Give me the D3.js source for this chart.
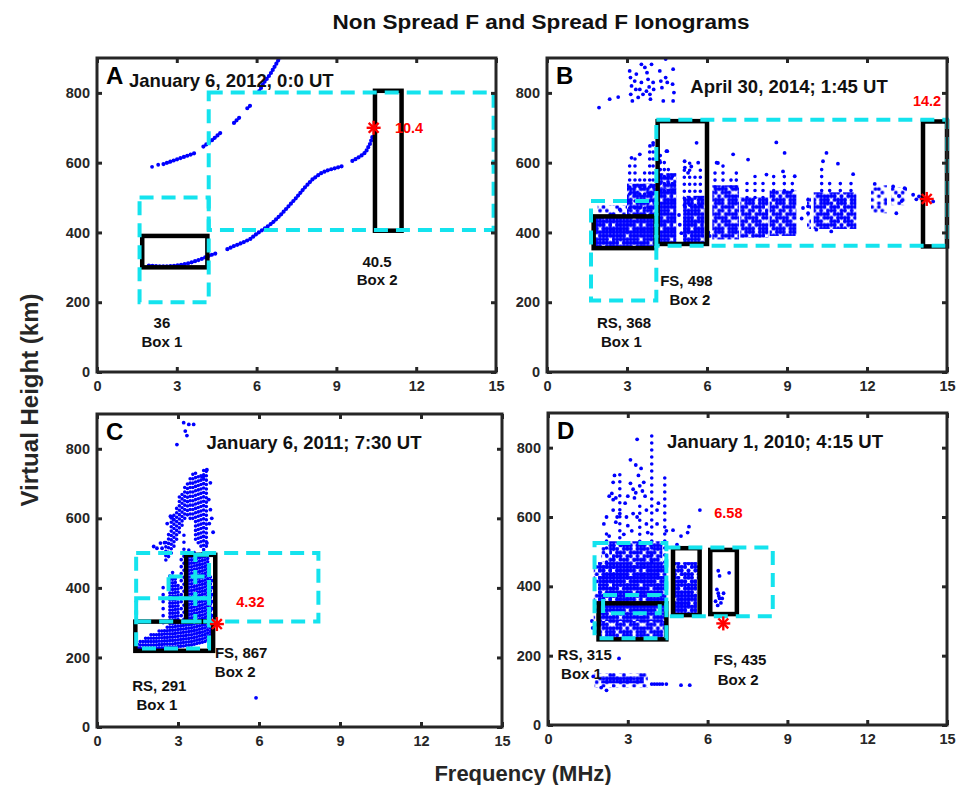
<!DOCTYPE html>
<html><head><meta charset="utf-8">
<script src="https://cdn.jsdelivr.net/npm/d3@7"></script>
<style>
body{margin:0;background:#fff}
svg{display:block}
text{font-family:"Liberation Sans",Arial,Helvetica,sans-serif;font-weight:bold}
</style>
</head><body>
<svg id="c" width="957" height="785"></svg>
<script>
// ---------------- DATA ----------------
const freqTicks = [0, 3, 6, 9, 12, 15];
const heightTicks = [0, 200, 400, 600, 800];
const freqDomain = [0, 15];
const heightDomain = [0, 900];
const mainTitle = "Non Spread F and Spread F Ionograms";
const xLabel = "Frequency (MHz)";
const yLabel = "Virtual Height (km)";
const panelIds = ["A", "B", "C", "D"];
const panelTitles = ["January 6, 2012, 0:0 UT", "April 30, 2014; 1:45 UT", "January 6, 2011; 7:30 UT", "January 1, 2010; 4:15 UT"];

// Panel A: traces [freq MHz, height km] (null = gap)
const A_traces = [
  [[1.95,305],[2.3,303],[2.7,303],[3.1,306],[3.5,313],[3.9,323],[4.2,333],[4.55,342],null,[4.9,352],[5.15,361],[5.45,370],[5.76,381],[6.0,396],[6.3,411],[6.6,428],[6.9,450],[7.2,475],[7.5,500],[7.8,528],[8.1,552],[8.4,569],[8.7,579],[9.0,585],[9.3,592],null,[9.6,605],[9.9,618],[10.1,630],[10.27,655],[10.38,680]],
  [[2.5,596],[2.8,604],[3.1,612],[3.4,620],[3.7,628],null,[4.0,646],[4.3,663],[4.65,686],null,[5.15,714],[5.35,729],null,[5.65,756],[5.8,766],null,[6.1,805],[6.3,832],[6.5,852],[6.7,878],[6.9,905]]
];
const A_dots = [[2.07,588],[2.3,594]];
const A_black = [[1.7,4.15,300,390],[10.45,11.45,405,806]];
const A_cyan = [[1.6,4.2,200,500],[4.2,14.91,407,801]];
const A_star = [10.4,700];
const A_starLabel = ["10.4", 11.2, 700];
const A_boxLabels = [["36",2.44,141],["Box 1",2.44,87],["40.5",10.53,317],["Box 2",10.53,264]];

// Panel B: dense / medium / sparse blocks [f0,f1,h0,h1], dotted columns [f,h0,h1], single dots [f,h]
const B_dense = [[1.78,4.08,357,448],[4.15,4.85,372,525],[5.1,5.9,372,470]];
const B_medium = [[3.0,4.08,448,540],[4.15,4.85,525,570],[5.1,5.9,470,505],[6.2,7.2,380,535],[7.25,8.3,385,500],[8.35,9.35,390,520],[10.0,11.6,410,515]];
const B_sparse = [[1.9,3.0,448,478],[9.75,9.9,410,500],[12.15,12.75,455,535],[12.9,13.5,478,530]];
const B_streaks = [[3.1,450,600],[3.3,450,620],[3.48,450,560],[3.66,450,590],[3.85,450,640],[3.98,450,660],[4.25,520,640],[4.4,520,620],[4.55,520,600],[4.7,520,580],[5.15,478,590],[5.35,478,600],[5.55,478,560],[5.75,478,590],[6.3,530,580],[6.6,530,600],[6.9,530,570],[7.1,530,590],[7.5,500,560],[7.8,500,570],[8.1,500,550],[8.5,520,570],[8.9,520,580],[9.2,520,560],[10.3,520,600],[10.6,520,560],[11.0,520,550],[11.4,520,545]];
const B_dots = [[1.95,758],[2.35,782],[2.67,788],[3.1,863],[3.13,844],[3.17,820],[3.14,796],[3.2,777],[3.29,834],[3.35,854],[3.48,810],[3.42,787],[3.54,830],[3.6,796],[3.67,873],[3.75,858],[3.79,839],[3.83,817],[3.86,796],[3.88,782],[3.92,882],[3.73,805],[3.98,830],[4.0,810],[4.23,863],[4.27,834],[4.31,815],[4.36,777],[4.45,897],[4.45,844],[4.51,830],[4.73,868],[4.71,825],[4.76,801],[4.73,777],[3.54,882],[3.33,810],
  [3.17,614],[3.48,624],[3.86,648],[3.98,657],[5.61,657],[4.51,633],[4.23,605],[5.17,586],[5.29,571],[5.67,600],[6.36,600],[6.98,624],[2.73,466],[2.48,452],[2.1,442],
  [6.41,599],[7.54,609],[8.6,658],[8.91,628],[8.23,566],[8.85,575],[9.29,561],[10.48,628],[10.35,604],[10.91,597],[11.48,567],[12.29,539],[12.98,532],[13.41,527],[9.79,494],[9.79,475],[9.79,455],[10.1,408],[10.66,403],[13.1,455],[13.73,508],[14.48,489],[13.95,503],[13.85,495],[13.2,505],[13.3,490],
  [5.16,604],[5.41,589],[4.48,633],[4.95,450],[4.98,422],[5.04,398],[6.05,400],[6.0,425],[6.1,390],[9.6,470],[9.55,440]];
const B_black = [[1.75,4.08,355,446],[4.15,6.0,367,719],[14.1,15.0,360,718]];
const B_cyan = [[1.65,4.1,205,490],[4.1,15.0,362,723]];
const B_star = [14.24,496];
const B_starLabel = ["14.2", 14.25, 776];
const B_boxLabels = [["FS, 498",5.23,262],["Box 2",5.36,207],["RS, 368",2.89,141],["Box 1",2.79,87]];

// Panel C: dense columns (core), looser columns (upper band)
const C_core = [[1.5,228,245],[1.6,226,250],[1.7,226,254],[1.8,226,258],[1.9,226,262],[2.0,226,266],[2.1,226,270],[2.2,226,273],[2.3,227,277],[2.4,227,281],[2.5,228,285],[2.6,228,290],[2.7,229,440],[2.8,229,445],[2.9,230,430],[3.0,231,410],[3.1,232,300],[3.2,233,302],[3.3,234,505],[3.4,235,510],[3.5,236,505],[3.6,238,510],[3.7,240,500],[3.8,242,505],[3.9,244,505],[4.0,246,500],[4.1,250,495],[4.2,255,440]];
const C_band = [[2.55,480,540],[2.65,490,560],[2.75,500,610],[2.85,520,620],[2.95,540,630],[3.05,560,665],[3.15,580,680],[3.25,600,690],[3.35,610,700],[3.45,600,720],[3.55,600,730],[3.65,540,735],[3.75,530,720],[3.85,520,735],[3.95,510,740],[4.05,520,745]];
const C_sparse = [[2.45,300,420],[3.12,300,500],[3.22,310,560],[4.28,300,430]];
const C_dots = [[3.21,875],[3.4,870],[3.58,870],[3.27,851],[3.33,838],[2.96,812],[5.89,84],[4.07,740],[3.95,721],[4.14,654],[4.2,625],[2.1,519],[2.35,529],[2.22,514],[4.2,702],[2.72,606],[2.6,585],[4.25,600],[4.3,560],[2.41,514],[2.78,604],[2.84,596],[3.89,719],[4.05,738],[3.95,548],[4.07,529],[4.16,585],[2.5,530]];
const C_black = [[1.42,4.3,219,303],[3.3,4.38,303,495]];
const C_cyan = [[1.45,8.2,303,500],[1.45,4.15,226,370],[2.65,4.15,370,433],[3.64,4.15,303,495]];
const C_star = [4.44,296];
const C_starLabel = ["4.32", 5.68, 360];
const C_boxLabels = [["FS, 867",5.34,215],["Box 2",5.12,159],["RS, 291",2.31,120],["Box 1",2.22,65]];

// Panel D
const D_dense = [[1.88,4.45,300,470],[4.75,5.6,320,420],[2.0,3.6,120,140]];
const D_medium = [[1.88,4.45,250,300],[2.3,4.3,470,530],[4.75,5.65,420,470]];
const D_sparse = [[1.75,3.75,108,150],[1.72,1.88,260,470],[2.0,2.3,470,520]];
const D_streaks = [[2.7,540,726],[3.9,470,837],[4.39,470,720],[3.45,530,650],[2.2,470,560]];
const D_dots = [[3.35,824],[3.1,765],[3.3,750],[3.5,740],[2.4,668],[2.45,650],[2.3,660],[2.55,655],[3.1,697],[3.2,680],[3.3,670],[3.45,690],[3.55,675],[3.25,655],[3.0,660],[2.7,610],[2.6,600],[2.2,600],[2.1,580],[3.7,620],[4.1,620],[4.45,560],[4.7,562],[5.3,572],[5.25,555],[5.0,545],[4.85,520],[5.71,620],
  [2.45,700],[2.5,720],[2.45,620],[2.55,585],[2.9,640],[2.95,600],[3.0,575],[3.15,560],[3.6,700],[3.65,660],[3.7,580],[3.75,555],[4.1,580],[4.15,640],[3.2,610],[3.35,600],[3.4,720],[2.3,545],[2.85,550],
  [6.4,445],[6.81,439],[6.45,430],[6.35,391],[6.4,380],[6.45,365],[6.5,352],[6.3,357],[6.38,345],[6.55,365],[6.42,372],[6.6,380],[2.67,192],[3.9,118],[4.0,118],[4.1,118],[4.2,118],[4.3,118],[4.45,118],[5.0,115],[5.33,115],[1.7,140],[2.2,100],[2.0,108],[1.65,300],[1.68,280]];
const D_black = [[1.9,4.45,247,351],[4.7,5.7,317,510],[6.1,7.1,320,505]];
const D_cyan = [[1.75,4.45,250,525],[4.45,8.45,314,512],[2.07,4.2,322,375]];
const D_star = [6.59,293];
const D_starLabel = ["6.58", 6.78, 612];
const D_boxLabels = [["RS, 315",1.38,202],["Box 1",1.26,147],["FS, 435",7.22,188],["Box 2",7.15,132]];

// ---------------- LAYOUT ----------------
const layout = [
  {x0:97, x1:496, y0:58, y1:372},
  {x0:547, x1:947, y0:58, y1:372},
  {x0:97, x1:502, y0:414, y1:727},
  {x0:548, x1:947, y0:413, y1:725}
];
const titleCfg = [
  {dx:32, dy:29, anchor:"start"},
  {dx:242, dy:35, anchor:"middle"},
  {dx:217, dy:35, anchor:"middle"},
  {dx:227, dy:35, anchor:"middle"}
];
const panels = [
  {traces:A_traces, dots:A_dots, dense:[], medium:[], sparse:[], streaks:[], core:[], band:[], black:A_black, cyan:A_cyan, star:A_star, starLabel:A_starLabel, starAnchor:"start", boxLabels:A_boxLabels},
  {traces:[], dots:B_dots, dense:B_dense, medium:B_medium, sparse:B_sparse, streaks:B_streaks, core:[], band:[], black:B_black, cyan:B_cyan, star:B_star, starLabel:B_starLabel, starAnchor:"middle", boxLabels:B_boxLabels},
  {traces:[], dots:C_dots, dense:[], medium:[], sparse:[], streaks:C_sparse, core:C_core, band:C_band, black:C_black, cyan:C_cyan, star:C_star, starLabel:C_starLabel, starAnchor:"middle", boxLabels:C_boxLabels},
  {traces:[], dots:D_dots, dense:D_dense, medium:D_medium, sparse:D_sparse, streaks:D_streaks, core:[], band:[], black:D_black, cyan:D_cyan, star:D_star, starLabel:D_starLabel, starAnchor:"middle", boxLabels:D_boxLabels}
];

const BLUE = "#0000ff", AX = "#262626", CYAN = "#14e3ee", RED = "#ff0000";
const svg = d3.select("#c");
const defs = svg.append("defs");

// dot-texture patterns (rendering style only): masks of a 9x8 grid of ionogram-like dots
function makePattern(id, mask, r) {
  const cw = 3.4, rh = 3.6;
  const p = defs.append("pattern").attr("id", id).attr("patternUnits", "userSpaceOnUse")
    .attr("width", cw * 9).attr("height", rh * mask.length);
  mask.forEach((row, j) => row.split("").forEach((c, k) => {
    if (c === "1") p.append("circle").attr("cx", cw * k + cw / 2).attr("cy", rh * j + rh / 2).attr("r", r).attr("fill", BLUE);
  }));
}
makePattern("dense", ["111111111","111101111","111111110","110111111","111111011","111111111","011111101","111110111"], 2.15);
makePattern("medium", ["110111011","011101111","111011010","101110111","110111101","011101110","111010111","101111011"], 2.05);
makePattern("sparse", ["100100101","010010100","001001010","100100001","010001100","001010010","100100100","010010001"], 1.9);

panels.forEach((P, i) => {
  const L = layout[i];
  const x = d3.scaleLinear().domain(freqDomain).range([L.x0, L.x1]);
  const y = d3.scaleLinear().domain(heightDomain).range([L.y1, L.y0]);
  const g = svg.append("g");
  const cid = "clip" + i;
  defs.append("clipPath").attr("id", cid).append("rect")
    .attr("x", L.x0).attr("y", L.y0).attr("width", L.x1 - L.x0).attr("height", L.y1 - L.y0);
  const data = g.append("g").attr("clip-path", `url(#${cid})`);

  const blocks = (arr, pat) => data.append("g").selectAll("rect").data(arr).join("rect")
    .attr("x", d => x(d[0])).attr("width", d => x(d[1]) - x(d[0]))
    .attr("y", d => y(d[3])).attr("height", d => y(d[2]) - y(d[3]))
    .attr("fill", `url(#${pat})`);
  blocks(P.sparse, "sparse");
  blocks(P.medium, "medium");
  blocks(P.dense, "dense");

  const cols = (arr, dash) => data.append("g").selectAll("line").data(arr).join("line")
    .attr("x1", d => x(d[0])).attr("x2", d => x(d[0]))
    .attr("y1", d => y(d[1])).attr("y2", d => y(d[2]))
    .attr("stroke", BLUE).attr("stroke-width", 3.6).attr("stroke-linecap", "round").attr("stroke-dasharray", dash);
  cols(P.core, "0,3.4");
  cols(P.band, "0,4.4");
  cols(P.streaks, "0,7");

  const line = d3.line().defined(d => d !== null).x(d => x(d[0])).y(d => y(d[1]));
  data.append("g").selectAll("path").data(P.traces).join("path")
    .attr("d", line).attr("fill", "none").attr("stroke", BLUE).attr("stroke-width", 4.2)
    .attr("stroke-linecap", "round").attr("stroke-dasharray", "0,3.6");
  data.append("g").selectAll("circle").data(P.dots).join("circle")
    .attr("cx", d => x(d[0])).attr("cy", d => y(d[1])).attr("r", 1.9).attr("fill", BLUE);

  // black boxes
  g.append("g").selectAll("rect").data(P.black).join("rect")
    .attr("x", d => x(d[0])).attr("width", d => x(d[1]) - x(d[0]))
    .attr("y", d => y(d[3])).attr("height", d => y(d[2]) - y(d[3]))
    .attr("fill", "none").attr("stroke", "#000").attr("stroke-width", 4.5);
  // cyan dashed boxes
  g.append("g").selectAll("rect").data(P.cyan).join("rect")
    .attr("x", d => x(d[0])).attr("width", d => x(d[1]) - x(d[0]))
    .attr("y", d => y(d[3])).attr("height", d => y(d[2]) - y(d[3]))
    .attr("fill", "none").attr("stroke", CYAN).attr("stroke-width", 4).attr("stroke-dasharray", "14,8");

  // frame + ticks
  g.append("rect").attr("x", L.x0).attr("y", L.y0).attr("width", L.x1 - L.x0).attr("height", L.y1 - L.y0)
    .attr("fill", "none").attr("stroke", AX).attr("stroke-width", 3);
  const styleAxis = sel => {
    sel.select(".domain").remove();
    sel.selectAll(".tick line").attr("stroke", AX).attr("stroke-width", 3);
    sel.selectAll(".tick text").attr("fill", AX).style("font-size", "14.5px").style("font-weight", "bold");
  };
  g.append("g").attr("transform", `translate(0,${L.y1})`)
    .call(d3.axisBottom(x).tickValues(freqTicks).tickSizeInner(-5).tickSizeOuter(0).tickPadding(9)).call(styleAxis);
  g.append("g").attr("transform", `translate(0,${L.y0})`)
    .call(d3.axisTop(x).tickValues(freqTicks).tickSizeInner(-5).tickSizeOuter(0).tickFormat("")).call(styleAxis);
  g.append("g").attr("transform", `translate(${L.x0},0)`)
    .call(d3.axisLeft(y).tickValues(heightTicks).tickSizeInner(-5).tickSizeOuter(0).tickPadding(7)).call(styleAxis);
  g.append("g").attr("transform", `translate(${L.x1},0)`)
    .call(d3.axisRight(y).tickValues(heightTicks).tickSizeInner(-5).tickSizeOuter(0).tickFormat("")).call(styleAxis);

  // asterisk marker
  const st = g.append("g").attr("transform", `translate(${x(P.star[0])},${y(P.star[1])})`);
  [0, 45, 90, 135].forEach(a => {
    st.append("line").attr("x1", -7).attr("x2", 7).attr("y1", 0).attr("y2", 0)
      .attr("transform", `rotate(${a})`).attr("stroke", RED).attr("stroke-width", 2.4);
  });
  g.append("text").attr("x", x(P.starLabel[1])).attr("y", y(P.starLabel[2])).attr("dy", "0.36em")
    .attr("text-anchor", P.starAnchor).attr("fill", RED).style("font-size", "14.5px").text(P.starLabel[0]);

  // box labels
  g.append("g").selectAll("text").data(P.boxLabels).join("text")
    .attr("x", d => x(d[1])).attr("y", d => y(d[2])).attr("dy", "0.36em")
    .attr("text-anchor", "middle").attr("fill", "#111").style("font-size", "15px").text(d => d[0]);

  // panel letter + title
  g.append("text").attr("x", L.x0 + 9).attr("y", L.y0 + 26).style("font-size", "24px").attr("fill", "#000").text(panelIds[i]);
  g.append("text").attr("x", L.x0 + titleCfg[i].dx).attr("y", L.y0 + titleCfg[i].dy)
    .attr("text-anchor", titleCfg[i].anchor).style("font-size", "18.5px").attr("fill", "#111").text(panelTitles[i]);
});

svg.append("text").attr("x", 541).attr("y", 29).attr("text-anchor", "middle")
  .style("font-size", "20px").attr("textLength", 417).attr("lengthAdjust", "spacingAndGlyphs").attr("fill", "#111").text(mainTitle);
svg.append("text").attr("x", 523).attr("y", 781).attr("text-anchor", "middle")
  .style("font-size", "22px").attr("fill", "#262626").text(xLabel);
svg.append("text").attr("transform", "translate(38,400) rotate(-90)").attr("text-anchor", "middle")
  .style("font-size", "24px").attr("fill", "#262626").text(yLabel);
</script>
</body></html>
